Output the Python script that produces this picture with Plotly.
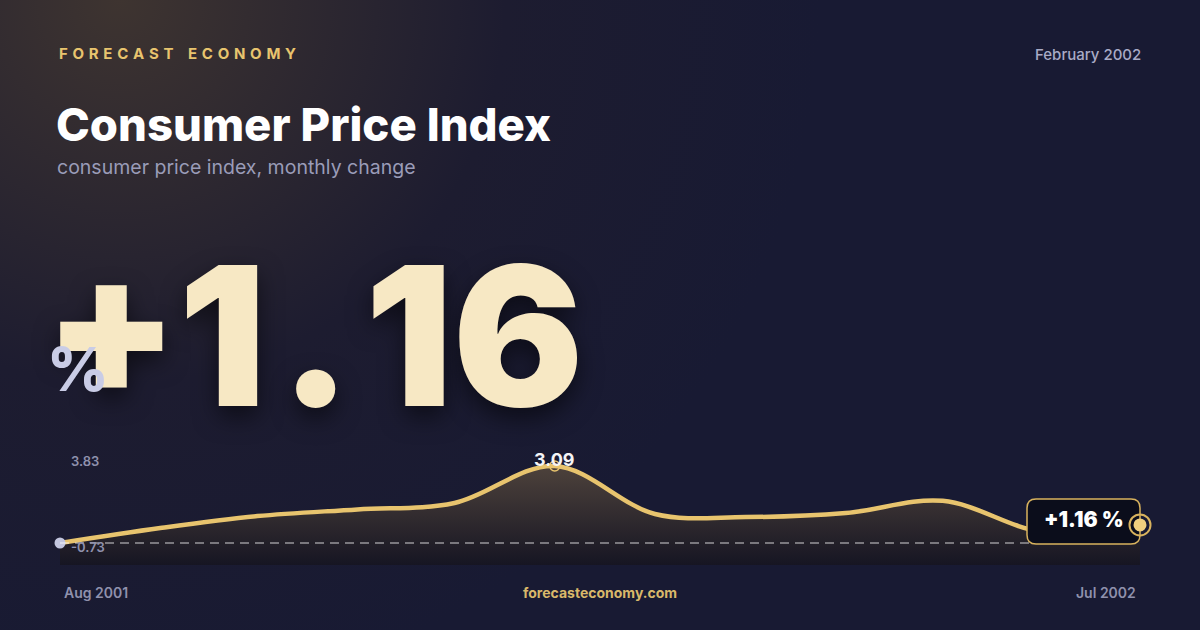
import base64
import plotly.graph_objects as go

# monthly CPI change, Aug 2001 - Jul 2002
months = ["2001-08-01", "2001-09-01", "2001-10-01", "2001-11-01", "2001-12-01", "2002-01-01",
          "2002-02-01", "2002-03-01", "2002-04-01", "2002-05-01", "2002-06-01", "2002-07-01"]
cpi_change = [0.57, 1.06, 1.45, 1.67, 1.88, 3.09, 1.52, 1.42, 1.55, 1.95, 0.93, 1.16]
y_range = [-0.15, 3.58]
range_labels = ["3.83", "-0.73"]
start_label = "Aug 2001"
end_label = "Jul 2002"

brand = "FORECAST ECONOMY"
period = "February 2002"
title = "Consumer Price Index"
subtitle = "consumer price index, monthly change"
site = "forecasteconomy.com"

GOLD = "#e8c46e"
NAVY = "#181a33"
GREY = "#9a9cb8"
FONT = "Inter"

last = cpi_change[-1]
peak_i = cpi_change.index(max(cpi_change))
x_dom = [60 / 1200, 1140 / 1200]

# background: navy with a warm glow in the top-left corner
svg = f"""<svg xmlns='http://www.w3.org/2000/svg' width='1200' height='630'>
<defs><radialGradient id='g' gradientUnits='userSpaceOnUse' cx='120' cy='0' r='700'>
<stop offset='0' stop-color='#3e3430'/><stop offset='0.55' stop-color='#1d1c30'/>
<stop offset='1' stop-color='{NAVY}'/></radialGradient></defs>
<rect width='1200' height='630' fill='url(#g)'/></svg>"""
bg_src = "data:image/svg+xml;base64," + base64.b64encode(svg.encode()).decode()

fig = go.Figure()

# invisible floor for the area fill
fig.add_trace(go.Scatter(x=months, y=[y_range[0]] * len(months), mode="lines",
                         line=dict(width=0), hoverinfo="skip", showlegend=False))
fig.add_trace(go.Scatter(
    x=months, y=cpi_change, mode="lines",
    line=dict(color=GOLD, width=4.5, shape="spline", smoothing=1.0),
    fill="tonexty",
    fillgradient=dict(type="vertical", start=y_range[0], stop=max(cpi_change),
                      colorscale=[[0, "rgba(22,21,34,0.95)"], [1, "rgba(80,68,60,0.95)"]]),
    showlegend=False))

# first point and peak markers
fig.add_trace(go.Scatter(x=[months[0]], y=[cpi_change[0]], mode="markers", cliponaxis=False,
                         marker=dict(size=11, color="#c3c6df"), showlegend=False))
fig.add_trace(go.Scatter(x=[months[peak_i]], y=[cpi_change[peak_i]], mode="markers", cliponaxis=False,
                         marker=dict(size=10, symbol="circle-open", color=GOLD, line=dict(width=1.5)),
                         showlegend=False))


def rounded_box(x0, y0, x1, y1, r):
    return (f"M{x0+r},{y0} L{x1-r},{y0} Q{x1},{y0} {x1},{y0+r} L{x1},{y1-r} Q{x1},{y1} {x1-r},{y1} "
            f"L{x0+r},{y1} Q{x0},{y1} {x0},{y1-r} L{x0},{y0+r} Q{x0},{y0} {x0+r},{y0} Z")


# the last point sits on the right edge of the x domain
end_anchor = dict(xref="paper", yref="y", xsizemode="pixel", ysizemode="pixel",
                  xanchor=x_dom[1], yanchor=last, layer="above")
shapes = [
    # reference line at the starting value
    dict(type="line", xref="x", yref="y", x0=months[0], x1=months[-1], y0=cpi_change[0], y1=cpi_change[0],
         line=dict(color="rgba(255,255,255,0.8)", width=1.2, dash="9px,6px"), layer="above"),
    # value box next to the last point
    dict(type="path", path=rounded_box(-113, -19, 0, 26, 9),
         fillcolor="#0b0d1b", line=dict(color="#d9b35e", width=1.5), **end_anchor),
    dict(type="circle", x0=-10.5, x1=10.5, y0=-10.5, y1=10.5,
         line=dict(color="#d9b35e", width=2), **end_anchor),
    dict(type="circle", x0=-6.5, x1=6.5, y0=-6.5, y1=6.5,
         fillcolor="#f0cf7e", line=dict(width=0), **end_anchor),
]

spaced_brand = "\u2009\u2002\u2009\u2009".join("\u2009\u2009".join(w) for w in brand.split(" "))
big_value = f"{last:+.2f}".replace(".", "\u200a.\u200a")

annotations = [
    dict(text=spaced_brand, x=57 / 1200, y=1 - 53 / 630, xanchor="left", yanchor="middle",
         font=dict(family=FONT, size=15, color=GOLD, weight=700)),
    dict(text=period, x=1143 / 1200, y=1 - 54 / 630, xanchor="right", yanchor="middle",
         font=dict(family=FONT, size=15, color="#a9abc6", weight=500)),
    dict(text=title, x=54 / 1200, y=1 - 125 / 630, xanchor="left", yanchor="middle",
         font=dict(family=FONT, size=45.5, color="#ffffff", weight=800)),
    dict(text=subtitle, x=55 / 1200, y=1 - 167 / 630, xanchor="left", yanchor="middle",
         font=dict(family=FONT, size=19.5, color=GREY, weight=400)),
    dict(text=big_value, x=42 / 1200, y=1 - 335 / 630, xanchor="left", yanchor="middle",
         font=dict(family=FONT, size=194, color="#f7e8c4", weight=900,
                   shadow="0px 10px 24px rgba(0,0,0,0.55)")),
    dict(text="%", x=45 / 1200, y=1 - 369 / 630, xanchor="left", yanchor="middle",
         font=dict(family=FONT, size=60, color="#c9cce6", weight=800)),
    dict(text=range_labels[0], x=69 / 1200, y=1 - 461 / 630, xanchor="left", yanchor="middle",
         font=dict(family=FONT, size=13, color="#8f91ad", weight=600)),
    dict(text=range_labels[1], x=69 / 1200, y=1 - 547 / 630, xanchor="left", yanchor="middle",
         font=dict(family=FONT, size=13, color="#8f91ad", weight=600)),
    dict(text=f"{cpi_change[peak_i]:.2f}", xref="x", yref="y", x=months[peak_i], y=cpi_change[peak_i],
         yshift=6, xanchor="center", yanchor="middle", showarrow=False,
         font=dict(family=FONT, size=18, color="#f4f4f6", weight=700)),
    dict(text=f"{last:+.2f} %", x=x_dom[1], yref="y", y=last, xshift=-56.5, yshift=5,
         xanchor="center", yanchor="middle",
         font=dict(family=FONT, size=21, color="#ffffff", weight=900)),
    dict(text=start_label, xref="x", x=months[0], xshift=2, y=1 - 592 / 630, xanchor="left", yanchor="middle",
         font=dict(family=FONT, size=14, color="#8f91ad", weight=600)),
    dict(text=end_label, xref="x", x=months[-1], xshift=-2, y=1 - 592 / 630, xanchor="right", yanchor="middle",
         font=dict(family=FONT, size=14, color="#8f91ad", weight=600)),
    dict(text=site, x=0.5, y=1 - 592 / 630, xanchor="center", yanchor="middle",
         font=dict(family=FONT, size=14, color="#d9b86a", weight=700)),
]
for a in annotations:
    a.setdefault("xref", "paper")
    a.setdefault("yref", "paper")
    a.setdefault("showarrow", False)

fig.update_layout(
    width=1200, height=630,
    margin=dict(l=0, r=0, t=0, b=0),
    paper_bgcolor=NAVY, plot_bgcolor="rgba(0,0,0,0)",
    images=[dict(source=bg_src, xref="paper", yref="paper", x=0, y=1, sizex=1, sizey=1,
                 sizing="stretch", layer="below")],
    xaxis=dict(domain=x_dom, range=[months[0], months[-1]], type="date",
               visible=False, fixedrange=True),
    yaxis=dict(domain=[(630 - 565) / 630, (630 - 451) / 630], range=y_range,
               visible=False, fixedrange=True),
    shapes=shapes,
    annotations=annotations,
    showlegend=False,
)

fig.write_html("out.html", config={"displayModeBar": False},
               post_script="document.body.style.margin='0';document.body.style.overflow='hidden';")
